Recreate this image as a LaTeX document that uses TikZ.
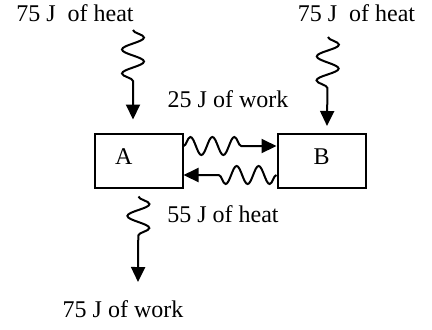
\documentclass[tikz,border=0pt]{standalone}
\usepackage{fontspec}
\setmainfont{Liberation Serif}
\usetikzlibrary{arrows.meta,positioning,calc,decorations.pathmorphing}

\begin{document}
\begin{tikzpicture}[x=0.5pt, y=-0.5pt,
    sys/.style={rectangle, draw, line width=1pt, minimum width=44pt, minimum height=27pt,
                text height=8pt, text depth=4pt, font=\fontsize{12}{14}\selectfont},
    sysleft/.style={sys, text width=23.5pt, align=left, inner xsep=10pt},
    lbl/.style={font=\fontsize{12}{14}\selectfont, anchor=base, inner sep=0pt},
    flow/.style={line width=1pt, -{Triangle[length=7.5pt,width=7pt]}, decorate,
                 decoration={snake, amplitude=5.5pt, segment length=12pt, post length=#1}},
    flow/.default=15pt,
    xflow/.style={line width=1pt, -{Triangle[length=7.5pt,width=7pt]}, decorate,
                  decoration={snake, amplitude=4.5pt, segment length=11pt, post length=#1}}
]
    \useasboundingbox (0,0) rectangle (432,329);

    \node[sysleft] (A) at (138.5,160.5) {A};
    \node[sys]     (B) at (321.5,160.5) {B};

    \node[lbl] (qinA)  at (75,21)    {75 J\ \ of heat};
    \node[lbl] (qinB)  at (356.5,21) {75 J\ \ of heat};
    \node[lbl] (wAB)   at (228,107)  {25 J of work};
    \node[lbl] (qBA)   at (223,222)  {55 J of heat};
    \node[lbl] (wout)  at (123,317)  {75 J of work};

    \coordinate (hA) at (133,30);
    \coordinate (hB) at (328,37);
    \coordinate (wA) at (138,282);

    \draw[flow] (hA) -- ($(A.north)+(-5.5,-13)$);
    \draw[flow] (hB) -- ($(B.north)+(5.5,-6.5)$);
    \draw[flow=17.5pt] ($(A.south)+(0,8)$) -- (wA);

    \draw[xflow=17.5pt] ($(A.east)+(0,-14.5)$) -- ($(B.west)+(0,-14.5)$);
    \draw[xflow=16pt]   ($(B.west)+(0,14.5)$) -- ($(A.east)+(0,14.5)$);
\end{tikzpicture}
\end{document}
